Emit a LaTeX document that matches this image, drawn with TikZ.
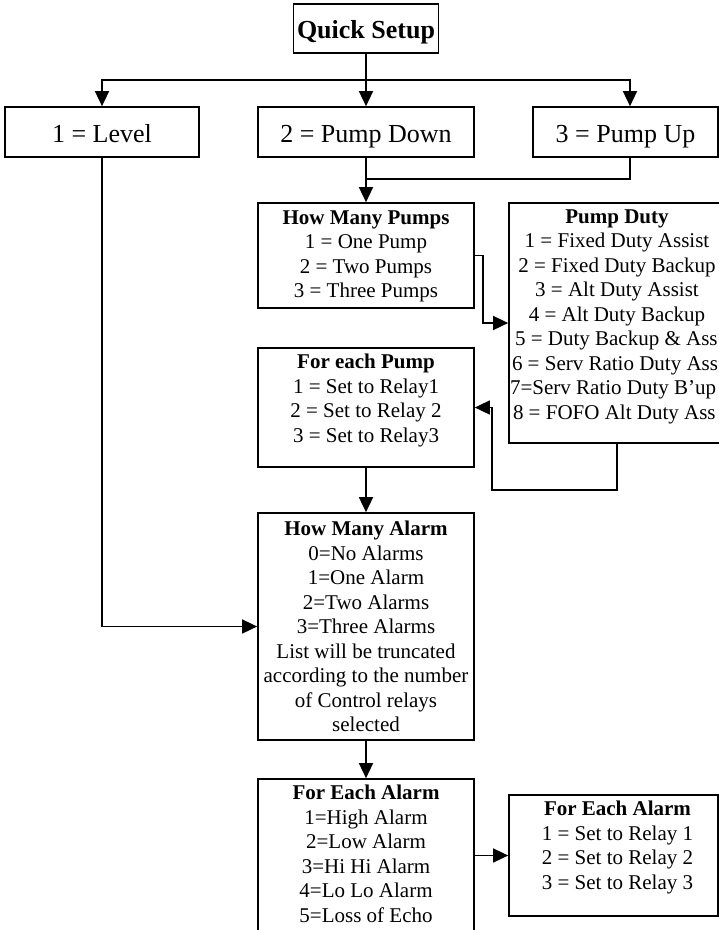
\documentclass[tikz,border=0pt]{standalone}
\usepackage{fontspec}
\setmainfont{Liberation Serif}
\usetikzlibrary{arrows.meta}
\begin{document}
\begin{tikzpicture}[x=1pt,y=-1pt,
  box/.style={draw, line width=1.7pt, rectangle, inner sep=0pt},
  bigtxt/.style={font=\fontsize{26}{30}\selectfont, text height=20pt, text depth=0pt},
  txt/.style={anchor=north, align=center, inner sep=0pt, font=\fontsize{21}{24.5}\selectfont},
  conn/.style={line width=1.6pt},
  arr/.style={conn, -{Triangle[length=15pt,width=14pt]}},
]
\useasboundingbox (0,0) rectangle (719,930);
\clip (0,0) rectangle (719,930);

% boxes
\node[box, bigtxt, minimum width=145pt, minimum height=49pt] (qs) at (366,28.5) {\textbf{Quick Setup}};
\node[box, bigtxt, minimum width=194pt, minimum height=50pt] (level) at (102,132) {1 = Level};
\node[box, bigtxt, minimum width=216pt, minimum height=50pt] (pdown) at (366,132) {2 = Pump Down};
\node[box, bigtxt, minimum width=185pt, minimum height=50pt] (pup) at (625.5,132) {3 = Pump Up};

\node[box, minimum width=216pt, minimum height=105pt] (hmp) at (366,255.5) {};
\node[box, minimum width=216pt, minimum height=240pt] (pduty) at (617,323) {};
\node[box, minimum width=216pt, minimum height=119pt] (fep) at (366,407.5) {};
\node[box, minimum width=216pt, minimum height=227pt] (hma) at (366,626.5) {};
\node[box, minimum width=216pt, minimum height=166pt] (fea) at (366,862) {};
\node[box, minimum width=209pt, minimum height=121pt] (fea2) at (613.5,855.5) {};

% texts
\node[txt] (hmpT) at ([yshift=-8pt]hmp.north) {\textbf{How Many Pumps}\\1 = One Pump\\2 = Two Pumps\\3 = Three Pumps};
\node[txt] (pdutyT) at ([yshift=-7pt]pduty.north) {\textbf{Pump Duty}\\1 = Fixed Duty Assist\\2 = Fixed Duty Backup\\3 = Alt Duty Assist\\4 = Alt Duty Backup\\\makebox[204pt][l]{5 = Duty Backup \& Ass}\\\makebox[210pt][l]{6 = Serv Ratio Duty Ass}\\\makebox[214pt][l]{7=Serv Ratio Duty B’up}\\\makebox[208pt][l]{8 = FOFO Alt Duty Ass}};
\node[txt] (fepT) at ([yshift=-7pt]fep.north) {\textbf{For each Pump}\\1 = Set to Relay1\\2 = Set to Relay 2\\3 = Set to Relay3};
\node[txt] (hmaT) at ([yshift=-9pt]hma.north) {\textbf{How Many Alarm}\\0=No Alarms\\1=One Alarm\\2=Two Alarms\\3=Three Alarms\\List will be truncated\\according to the number\\of Control relays\\selected};
\node[txt] (feaT) at ([yshift=-7pt]fea.north) {\textbf{For Each Alarm}\\1=High Alarm\\2=Low Alarm\\3=Hi Hi Alarm\\4=Lo Lo Alarm\\5=Loss of Echo};
\node[txt] (fea2T) at ([xshift=4pt,yshift=-7pt]fea2.north) {\textbf{For Each Alarm}\\1 = Set to Relay 1\\2 = Set to Relay 2\\3 = Set to Relay 3};

% connectors
\coordinate (bus) at (366,80);
\coordinate (join) at (366,179);
\coordinate (c1) at (492,490);
\draw[conn] (qs.south) -- (bus);
\draw[arr] (bus) -| (level.north);
\draw[arr] (bus) -- (pdown.north);
\draw[arr] (bus) -| ([xshift=4.5pt]pup.north);
\draw[arr] (pdown.south) -- (hmp.north);
\draw[conn] ([xshift=4.5pt]pup.south) |- (join);
\draw[arr] (hmp.east) -- ++(8,0) |- (pduty.west);
\draw[arr] (pduty.south) |- (c1) |- (fep.east);
\draw[arr] (fep.south) -- (hma.north);
\draw[arr] (level.south) |- (hma.west);
\draw[arr] (hma.south) -- (fea.north);
\draw[arr] (fea.east |- fea2.west) -- (fea2.west);
\end{tikzpicture}
\end{document}
